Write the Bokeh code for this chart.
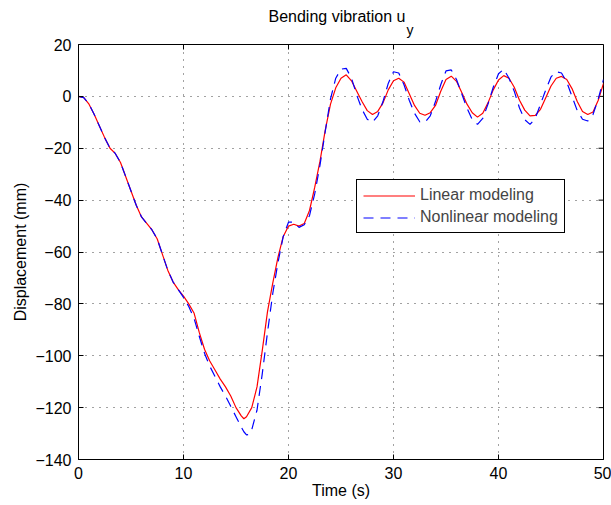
import math
from bokeh.plotting import figure
from bokeh.models import Range1d, FixedTicker, Legend, LegendItem, Title
from bokeh.embed import file_html
from bokeh.resources import INLINE

# ---------------- data ----------------
t_lin = [0, 0.5, 1, 1.5, 2, 2.5, 3, 3.5, 4, 4.5, 5, 5.5, 6, 6.5, 7, 7.5, 8, 8.5, 9, 9.5,
         10, 10.5, 11, 11.5, 12, 12.5, 13, 13.5, 14, 14.5, 15, 15.5, 15.75, 16, 16.5, 17, 17.5,
         18, 18.5, 19, 19.5, 20, 20.5, 21, 21.5, 22, 22.5, 23, 23.5, 24, 24.5, 25, 25.5,
         26, 26.5, 27, 27.5, 28, 28.5, 29, 29.5, 30, 30.5, 31, 31.5, 32, 32.5, 33, 33.5,
         34, 34.5, 35, 35.5, 36, 36.5, 37, 37.5, 38, 38.5, 39, 39.5, 40, 40.5, 41, 41.5,
         42, 42.5, 43, 43.5, 44, 44.5, 45, 45.5, 46, 46.5, 47, 47.5, 48, 48.5, 49, 49.5, 50]
u_lin = [0, -0.5, -3, -7, -11.5, -16, -20, -22, -25.5, -31, -36.5, -42, -46.5, -49, -51.5,
         -55, -61, -67, -71.5, -74.5, -77, -80, -83.5, -91, -97.5, -102, -105.5, -109, -112,
         -115.5, -120, -123.2, -124.3, -123.5, -120, -112, -98, -83, -72, -62, -54, -50, -49.3, -50,
         -49, -44, -35, -25, -13, -3, 3.3, 7, 8.3, 6, 2, -2, -5.5, -7, -5.8, -2.5, 2.5, 6, 7,
         5.5, 1, -3.5, -6.5, -7.3, -6.3, -3.5, 2, 6.5, 7.8, 5.8, 1.5, -3, -6.3, -8, -6.5,
         -2.5, 2.5, 6.3, 8, 7, 3.5, -1.5, -5.3, -7.5, -7.3, -5, -0.5, 4, 7, 7.7, 6.5, 3, -2,
         -5.8, -7, -6, -1.5, 5]

t_nl = [0, 0.5, 1, 1.5, 2, 2.5, 3, 3.5, 4, 4.5, 5, 5.5, 6, 6.5, 7, 7.5, 8, 8.5, 9, 9.5,
        10, 10.5, 11, 11.5, 12, 12.5, 13, 13.5, 14, 14.5, 15, 15.5, 15.75, 16, 16.25, 16.5, 17, 17.5,
        18, 18.5, 19, 19.5, 20, 20.5, 21, 21.5, 22, 22.5, 23, 23.5, 24, 24.5, 25, 25.5,
        26, 26.5, 27, 27.5, 28, 28.5, 29, 29.5, 30, 30.5, 31, 31.5, 32, 32.5, 33, 33.5,
        34, 34.5, 35, 35.5, 36, 36.5, 37, 37.5, 38, 38.5, 39, 39.5, 40, 40.5, 41, 41.5,
        42, 42.5, 43, 43.5, 44, 44.5, 45, 45.5, 46, 46.5, 47, 47.5, 48, 48.5, 49, 49.5, 50]
u_nl = [0, -0.5, -3, -7, -11.5, -16, -20, -22, -25.5, -31, -36.5, -42, -46.5, -49, -51.5,
        -55, -61, -67, -71.5, -74.5, -77.5, -81, -85.5, -92.5, -99, -104, -108, -112, -115.5,
        -119.5, -123.5, -127.5, -129.3, -130.5, -130.3, -128.5, -121, -107, -91, -76, -64, -54,
        -48.5, -48.5, -50.5, -49.5, -46, -37.5, -26.5, -13.5, -1, 7, 10.5, 10.8, 7, 0.5, -5,
        -8.8, -10, -7.5, -2, 5, 9.5, 9, 4.5, -1.5, -6.5, -9.8, -10, -7.5, -2, 4.5, 9.8, 10.2,
        6.5, 1, -4.5, -9, -10.8, -8.5, -3, 3.5, 8.7, 10.5, 7, 2, -4.5, -9, -10.8, -8.5, -3,
        2.5, 7.5, 9.5, 9, 5.5, 0, -5.5, -8.8, -9.5, -7, -1, 6.5]

x_ticks = [0, 10, 20, 30, 40, 50]
y_ticks = [-140, -120, -100, -80, -60, -40, -20, 0, 20]
series_names = ["Linear modeling", "Nonlinear modeling"]
title_main = "Bending vibration u"
title_sub = "y"

FONT = "Liberation Sans"
FS = "16px"

p = figure(width=611, height=505, output_backend="svg", toolbar_location=None,
           x_range=Range1d(0, 50), y_range=Range1d(-140, 20), title=None,
           min_border_left=78, min_border_right=8, min_border_top=44, min_border_bottom=46,
           background_fill_color="white", border_fill_color="white")
p.outline_line_color = "black"
p.outline_line_width = 1
p.outline_line_alpha = 1

for ax in (p.xaxis[0], p.yaxis[0]):
    ax.major_tick_in = 5
    ax.major_tick_out = 0
    ax.minor_tick_in = 0
    ax.minor_tick_out = 0
    ax.axis_line_color = "black"
    ax.major_tick_line_color = "black"
    ax.major_label_text_font = FONT
    ax.major_label_text_font_size = FS
    ax.major_label_text_color = "black"
    ax.axis_label_text_font = FONT
    ax.axis_label_text_font_size = FS
    ax.axis_label_text_font_style = "normal"
    ax.axis_label_text_color = "black"

p.xaxis[0].ticker = FixedTicker(ticks=x_ticks)
p.yaxis[0].ticker = FixedTicker(ticks=y_ticks)
p.xaxis[0].axis_label = "Time (s)"
p.yaxis[0].axis_label = "Displacement (mm)"
p.xaxis[0].major_label_standoff = 7
p.xaxis[0].axis_label_standoff = 0
p.yaxis[0].major_label_standoff = 7
p.yaxis[0].axis_label_standoff = 3

for g in (p.xgrid[0], p.ygrid[0]):
    g.grid_line_color = "#444444"
    g.grid_line_dash = "1 6"
    g.grid_line_width = 1
p.xgrid[0].ticker = FixedTicker(ticks=x_ticks)
p.ygrid[0].ticker = FixedTicker(ticks=y_ticks)

# inward ticks on the top and right frame edges
p.ray(x=x_ticks, y=[20] * len(x_ticks), length=5, length_units="screen",
      angle=-math.pi / 2, line_color="black", line_width=1)
p.ray(x=[50] * len(y_ticks), y=y_ticks, length=5, length_units="screen",
      angle=math.pi, line_color="black", line_width=1)

r_lin = p.line(t_lin, u_lin, line_color="#ff0000", line_width=1.2)
r_nl = p.line(t_nl, u_nl, line_color="#0000ff", line_width=1.2, line_dash="10 7")

legend = Legend(items=[LegendItem(label=series_names[0], renderers=[r_lin]),
                       LegendItem(label=series_names[1], renderers=[r_nl])],
                location=(278, 226), padding=6, spacing=4, margin=0,
                glyph_width=52, glyph_height=17, label_height=17, label_standoff=5,
                label_text_font=FONT, label_text_font_size=FS,
                border_line_color="black", border_line_width=1, border_line_alpha=1,
                background_fill_color="white", background_fill_alpha=1)
p.add_layout(legend, "center")

# subscript (closest to the frame) then the main title stacked over it
p.add_layout(Title(text=title_sub, align="left", offset=328, standoff=13,
                   text_font=FONT, text_font_size="14px", text_font_style="normal",
                   text_color="black"), "above")
p.add_layout(Title(text=title_main, align="left", offset=190, standoff=-22,
                   text_font=FONT, text_font_size=FS, text_font_style="normal",
                   text_color="black"), "above")

open("out.html", "w").write(file_html(p, INLINE))
